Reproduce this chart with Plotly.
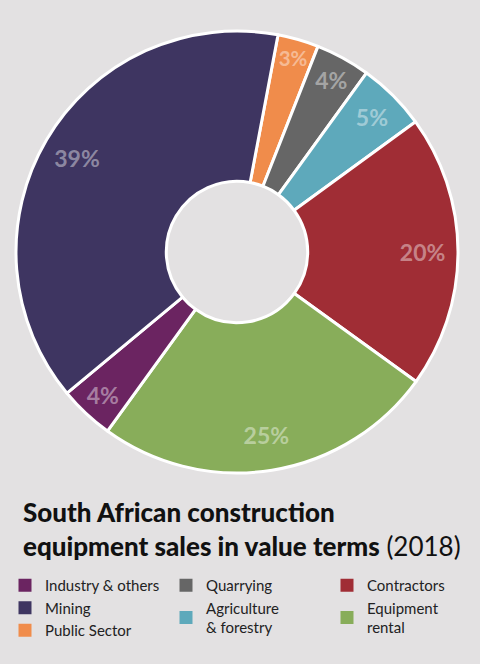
import plotly.graph_objects as go

# slices, clockwise from just right of 12 o'clock
labels = ["Public Sector", "Quarrying", "Agriculture & forestry", "Contractors",
          "Equipment rental", "Industry & others", "Mining"]
values = [3, 4, 5, 20, 25, 4, 39]
slice_colors = ["#f08c4b", "#666666", "#5ea9bb", "#a02d35",
                "#88ad5a", "#6b2461", "#3e3561"]

# legend columns (label shown, colour)
legend_cols = [
    [("Industry & others", "#6b2461"), ("Mining", "#3e3561"), ("Public Sector", "#f08c4b")],
    [("Quarrying", "#666666"), ("Agriculture<br>& forestry", "#5ea9bb")],
    [("Contractors", "#a02d35"), ("Equipment<br>rental", "#88ad5a")],
]

bg = "#e3e1e2"
font_main = "Lato, Roboto, sans-serif"

W, H = 480, 664
cx, cy, r = 237, 252, 221
dom_x = [(cx - r) / W, (cx + r) / W]
dom_y = [1 - (cy + r) / H, 1 - (cy - r) / H]

fig = go.Figure()

# the coloured ring
fig.add_trace(go.Pie(
    labels=labels, values=values, sort=False, direction="clockwise",
    rotation=10.7, hole=0.32,
    marker=dict(colors=slice_colors, line=dict(color="white", width=3)),
    textinfo="none", hoverinfo="label+percent", showlegend=False,
    domain=dict(x=dom_x, y=dom_y),
))

# transparent outer ring only used to place the percentage labels
fig.add_trace(go.Pie(
    labels=labels, values=values, sort=False, direction="clockwise",
    rotation=10.7, hole=0.68,
    marker=dict(colors=["rgba(0,0,0,0)"] * len(values), line=dict(width=0)),
    texttemplate="%{value}%", textposition="inside",
    insidetextorientation="horizontal",
    textfont=dict(family=font_main, size=23, color="rgba(255,255,255,0.42)", weight="bold"),
    hoverinfo="skip", showlegend=False,
    domain=dict(x=dom_x, y=dom_y),
))

# legend entries as dummy square markers, one legend per column
legend_x = [15 / W, 176 / W, 337 / W]
for i, col in enumerate(legend_cols):
    lname = "legend" if i == 0 else f"legend{i + 1}"
    for name, colr in col:
        fig.add_trace(go.Scatter(
            x=[None], y=[None], mode="markers", name=name,
            marker=dict(symbol="square", size=13, color=colr),
            legend=lname, showlegend=True,
        ))

legend_style = dict(
    orientation="v", xanchor="left", yanchor="top", y=1 - 569 / H,
    bgcolor="rgba(0,0,0,0)", font=dict(family=font_main, size=15, color="#222222"),
    itemclick=False, itemdoubleclick=False, tracegroupgap=0,
    itemwidth=30, indentation=-10,
)

fig.update_layout(
    width=W, height=H,
    margin=dict(l=0, r=0, t=0, b=0),
    paper_bgcolor=bg, plot_bgcolor=bg,
    xaxis=dict(visible=False), yaxis=dict(visible=False),
    legend=dict(x=legend_x[0], **legend_style),
    legend2=dict(x=legend_x[1], **legend_style),
    legend3=dict(x=legend_x[2], **legend_style),
    annotations=[dict(
        x=21 / W, y=1 - 494 / H, xref="paper", yref="paper",
        xanchor="left", yanchor="top", align="left", showarrow=False,
        text=("<span style='font-weight:900'>South African construction<br>"
              "equipment sales in value terms</span> (2018)"),
        font=dict(family=font_main, size=26, color="#111111"),
    )],
)

fig.write_html("out.html", config={"displayModeBar": False},
               post_script="document.body.style.margin='0';")
